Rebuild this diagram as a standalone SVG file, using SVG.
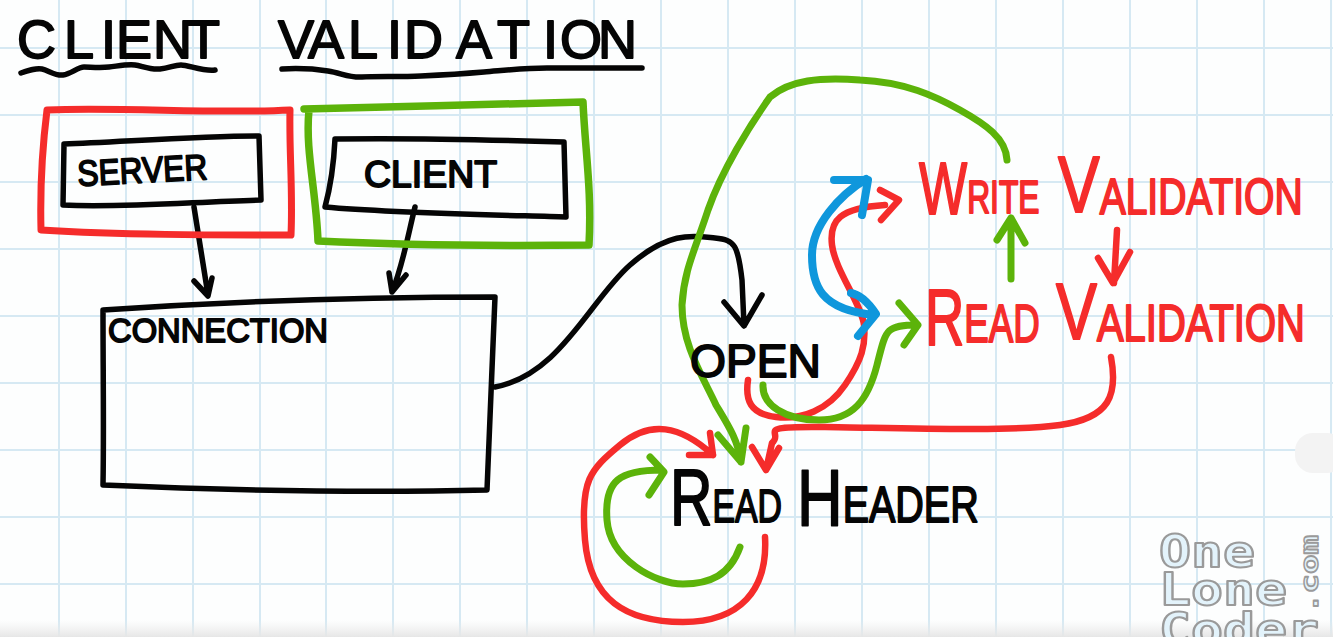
<svg xmlns="http://www.w3.org/2000/svg" width="1333" height="637" viewBox="0 0 1333 637">
<style>
.g{stroke:#d6e9f3;stroke-width:2;fill:none}
.k,.r,.n,.b{fill:none;stroke-linecap:round;stroke-linejoin:round}
.k{stroke:#050505;stroke-width:5.5}
.r{stroke:#f52c2b;stroke-width:6.5}
.n{stroke:#5cb30a;stroke-width:7}
.b{stroke:#0f97dc;stroke-width:8}
text{font-family:"Liberation Sans",Arial,sans-serif;stroke-linejoin:round}
.tk{fill:#050505;stroke:#050505;stroke-width:1.8}
.tr{fill:#f52c2b;stroke:#f52c2b;stroke-width:2}
.wm{font-family:"DejaVu Sans Mono",monospace;font-weight:bold;fill:#e3f3fb;stroke:#9a9a9a;stroke-width:2}
</style>
<defs>
<linearGradient id="fade" x1="0" y1="0" x2="0" y2="1"><stop offset="0" stop-color="#ededed" stop-opacity="0"/><stop offset="1" stop-color="#e6e6e6"/></linearGradient>
</defs>
<rect width="1333" height="637" fill="#fdfefe"/>
<g id="grid">
<path class="g" d="M59 0V637M126 0V637M193 0V637M260 0V637M326 0V637M393 0V637M460 0V637M527 0V637M594 0V637M661 0V637M728 0V637M795 0V637M862 0V637M929 0V637M996 0V637M1063 0V637M1130 0V637M1197 0V637M1264 0V637M1331 0V637"/>
<path class="g" d="M0 48H1333M0 115H1333M0 182H1333M0 249H1333M0 316H1333M0 383H1333M0 450H1333M0 517H1333M0 584H1333"/>
</g>
<rect y="620" width="1333" height="17" fill="url(#fade)"/>
<g id="connectors">
<path class="k" d="M194 207 L208 295M194 281L208 296L212 278"/>
<path class="k" d="M415 207 C408 235 403 265 392 292M389 273L392 292L406 275"/>
<path class="k" d="M495 387 C560 375 590 300 630 265 S695 236 715 238 S738 245 742 280 L744 325M724 302L744 326L762 295"/>
<path class="r" d="M748 380 C745 400 750 414 776 417 S828 410 845 385 S866 345 864 325 S835 270 832 245 S840 208 885 205M880 190L899 200L881 220"/>
<path class="b" d="M862 215 L868 180L834 180M866 179 C840 195 812 225 812 255 S820 310 875 315M851 293C862 295 870 305 876 314L858 336"/>
<path class="n" d="M763 385 C762 405 785 420 819 420 S868 400 877 365 S885 325 917 325M899 303L918 325L904 345"/>
<path class="n" d="M1011 279 V218M997 240L1011 218L1025 243"/>
<path class="r" d="M1117 230 L1114 283M1098 258L1113 283L1130 252"/>
<path class="r" d="M1111 357 C1118 395 1110 418 1060 425 S900 428 825 427 S785 432 772 443 L766 470M752 447L766 470L779 448"/>
<path class="r" d="M765 537 C768 590 740 622 683 622 S590 600 585 540 S590 470 620 445 S680 425 713 455M689 455H713L710 433"/>
<path class="n" d="M740 547 C730 575 710 584 683 584 S610 560 607 520 S620 470 662 470M650 457L664 472L649 495"/>
<path class="n" d="M1007 160 C1006 138 985 124 960 110 S905 82 860 80 C820 77 790 80 770 97 C750 125 722 170 708 210 C695 250 684 270 682 305 C682 345 702 375 716 405 C728 425 738 440 741 462M718 435L741 462L746 428"/>
</g>
<g id="title">
<text class="tk" x="17 64 101 116 153 187" y="58" font-size="54">CLIENT</text>
<text class="tk" x="278 308 348 387 404 456 497 543 560 598" y="58" font-size="54">VALIDATION</text>
<path class="k" d="M21 73 C30 70 36 68 42 69 S55 76 63 75 S78 67 84 67 S100 68 109 67 S128 64 135 65 S150 70 160 69 S174 65 181 65 S205 72 215 70"/>
<path class="k" d="M282 69 C300 68 315 69 328 71 S350 78 362 77 S400 77 421 76 S460 74 484 72 S525 68 547 68 S620 68 642 68"/>
</g>
<g id="server">
<path class="r" style="stroke-width:7" d="M47 110 C120 107 220 114 290 110 C289 150 293 190 291 235 C210 235 120 235 41 230 C40 190 42 150 47 110Z"/>
<path class="k" d="M64 144 C120 142 200 136 259 136 L261 200 C190 202 120 208 63 205 L64 144"/>
<text class="tk" transform="rotate(-3 78 185)" x="78" y="186" font-size="36" textLength="130" lengthAdjust="spacingAndGlyphs">SERVER</text>
</g>
<g id="client">
<path class="n" style="stroke-width:7.5" d="M304 109 C390 107 500 104 583 102 C585 150 592 190 589 245 C500 246 400 245 318 241 C316 190 305 150 309 110"/>
<path class="k" d="M335 139 C400 138 500 140 564 142 L566 217 C500 215 390 213 325 207 C331 185 334 160 335 139"/>
<text class="tk" x="364" y="187" font-size="36" textLength="133" lengthAdjust="spacingAndGlyphs">CLIENT</text>
</g>
<g id="connection">
<path class="k" d="M103 310 C220 302 370 297 495 297 C492 360 490 430 487 490 C370 493 220 490 103 485 C104 430 103 370 103 310"/>
<text class="tk" x="108" y="342" font-size="34" textLength="220" lengthAdjust="spacingAndGlyphs">CONNECTION</text>
</g>
<g id="open">
<text class="tk" x="690" y="377" font-size="46" textLength="131" lengthAdjust="spacingAndGlyphs">OPEN</text>
</g>
<g id="write-validation">
<text class="tr" transform="translate(919 214) scale(.69 1)"><tspan font-size="74">W</tspan><tspan font-size="46" dy="-1">RITE</tspan></text>
<text class="tr" transform="translate(1058 212) scale(.78 1)"><tspan font-size="80">V</tspan><tspan font-size="50" dy="2">ALIDATION</tspan></text>
</g>
<g id="read-validation">
<text class="tr" transform="translate(925 345) scale(.68 1)"><tspan font-size="80">R</tspan><tspan font-size="54" dy="-3">EAD</tspan></text>
<text class="tr" transform="translate(1056 339) scale(.768 1)"><tspan font-size="80">V</tspan><tspan font-size="52" dy="2">ALIDATION</tspan></text>
</g>
<g id="read-header">
<text class="tk" transform="translate(670 525) scale(.735 1)"><tspan font-size="80">R</tspan><tspan font-size="46" dy="-3">EAD</tspan></text>
<text class="tk" transform="translate(797 525) scale(.79 1)"><tspan font-size="80">H</tspan><tspan font-size="50" dy="-3">EADER</tspan></text>
</g>
<g id="watermark">
<rect x="1295" y="433" width="50" height="40" rx="18" fill="#f3f3f3"/>
<text class="wm" x="1159" y="567" font-size="44" textLength="96" lengthAdjust="spacingAndGlyphs">One</text>
<text class="wm" x="1159" y="605" font-size="44" textLength="128" lengthAdjust="spacingAndGlyphs">Lone</text>
<text class="wm" x="1159" y="645" font-size="44" textLength="160" lengthAdjust="spacingAndGlyphs">Coder</text>
<text class="wm" transform="translate(1318 613) rotate(-90)" style="stroke-width:1.5" font-size="24" textLength="78" lengthAdjust="spacingAndGlyphs">.com</text>
</g>
</svg>
